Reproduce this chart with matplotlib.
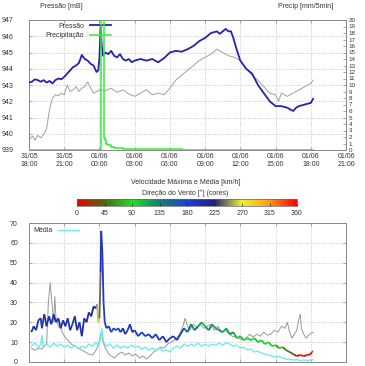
import numpy as np
import matplotlib
matplotlib.use("Agg")
import matplotlib.pyplot as plt
from matplotlib.collections import LineCollection
from matplotlib.colors import LinearSegmentedColormap, Normalize
from matplotlib.cm import ScalarMappable

plt.rcParams['font.family'] = ['Liberation Sans', 'DejaVu Sans']
plt.rcParams['font.size'] = 5

# time axis: hours since 31/05 18:00
tick_hours = [0, 3, 6, 9, 12, 15, 18, 21, 24, 27]
tick_labels = ["31/05\n18:00", "31/05\n21:00", "01/06\n00:00", "01/06\n03:00", "01/06\n06:00",
               "01/06\n09:00", "01/06\n12:00", "01/06\n15:00", "01/06\n18:00", "01/06\n21:00"]

# pressure [mB]
p_hours = [0.0, 0.25, 0.5, 0.75, 1.0, 1.25, 1.5, 1.75, 2.0, 2.25, 2.5, 2.75, 3.0, 3.25, 3.5, 3.75,
           4.0, 4.25, 4.5, 4.75, 5.0, 5.25, 5.5, 5.75, 5.9, 6.0, 6.1, 6.2, 6.3, 6.5, 6.75, 7.0,
           7.25, 7.5, 7.75, 8.0, 8.25, 8.5, 8.75, 9.0, 9.5, 10.0, 10.5, 11.0, 11.5, 12.0, 12.5,
           13.0, 13.5, 14.0, 14.5, 15.0, 15.5, 16.0, 16.25, 16.5, 16.75, 17.0, 17.2, 17.4, 17.7,
           18.0, 18.5, 19.0, 19.5, 20.0, 20.5, 21.0, 21.5, 22.0, 22.5, 22.75, 23.0, 23.5, 24.0, 24.2]
pressure = [943.15, 943.2, 943.35, 943.3, 943.2, 943.3, 943.15, 943.25, 943.1, 943.3, 943.4, 943.35,
            943.5, 943.7, 943.9, 944.1, 944.2, 944.35, 944.85, 944.6, 944.5, 944.3, 944.2, 943.8,
            943.9, 944.7, 946.6, 945.4, 944.8, 945.0, 944.9, 945.1, 944.8, 944.7, 944.9, 944.6,
            944.5, 944.6, 944.4, 944.5, 944.6, 944.5, 944.6, 944.4, 944.65, 945.0, 945.1, 945.05,
            945.2, 945.4, 945.7, 945.9, 946.2, 946.3, 946.15, 946.3, 946.45, 946.3, 946.3, 945.9,
            945.15, 944.5, 944.0, 943.7, 943.0, 942.5, 942.0, 941.7, 941.7, 941.6, 941.4, 941.6,
            941.7, 941.8, 941.9, 942.15]

# grey reference series (top panel, pressure scale)
g_hours = [0.1, 0.3, 0.5, 0.75, 1.0, 1.2, 1.5, 1.75, 2.0, 2.25, 2.5, 2.75, 3.0, 3.25, 3.5, 3.75,
           4.0, 4.25, 4.5, 4.75, 5.0, 5.25, 5.5, 5.75, 6.0, 6.5, 7.0, 7.5, 8.0, 8.5, 9.0, 9.5,
           10.0, 10.5, 11.0, 11.5, 12.0, 12.5, 13.0, 13.5, 14.0, 14.5, 15.0, 15.5, 16.0, 16.5,
           17.0, 17.5, 18.0, 18.5, 19.0, 19.5, 20.0, 20.5, 21.0, 21.25, 21.5, 22.0, 22.5, 23.0,
           23.5, 24.0, 24.2]
g_top = [939.7, 939.85, 939.6, 939.9, 939.75, 939.9, 940.3, 941.5, 942.2, 942.4, 942.35, 942.5,
         942.4, 943.0, 942.6, 942.7, 942.9, 942.6, 942.8, 942.9, 943.2, 942.8, 942.5, 942.6,
         942.7, 942.65, 942.8, 942.55, 942.7, 942.45, 942.3, 942.5, 942.7, 942.4, 942.5, 942.4,
         942.8, 943.3, 943.6, 943.9, 944.2, 944.5, 944.7, 944.9, 945.2, 945.0, 944.8, 944.7,
         944.5, 944.0, 943.6, 943.3, 942.9, 942.5, 942.4, 942.0, 942.5, 942.3, 942.5, 942.7,
         942.9, 943.1, 943.3]

# precipitation [mm/5min]
r_hours = [0.0, 6.08, 6.12, 6.3, 6.36, 6.42, 6.5, 6.6, 6.75, 7.0, 7.25, 7.5, 8.0, 9.0, 10.0,
           10.7, 11.5, 12.3, 12.9, 13.0, 24.2]
precip = [0.0, 0.0, 22.0, 22.0, 3.0, 1.8, 1.5, 1.0, 0.7, 0.5, 0.3, 0.3, 0.15, 0.1, 0.1,
          0.15, 0.1, 0.15, 0.1, 0.0, 0.0]

# wind: max speed [km/h] and direction [deg]
w_hours = [0.2, 0.4, 0.6, 0.8, 1.0, 1.1, 1.3, 1.5, 1.7, 1.9, 2.1, 2.3, 2.5, 2.7, 2.9, 3.1, 3.3,
           3.5, 3.7, 3.9, 4.1, 4.3, 4.5, 4.7, 4.9, 5.1, 5.3, 5.5, 5.7, 5.8, 5.9, 6.0, 6.1, 6.15,
           6.25, 6.35, 6.45, 6.6, 6.8, 7.0, 7.2, 7.4, 7.6, 7.8, 8.0, 8.2, 8.4, 8.6, 8.8, 9.0, 9.3,
           9.6, 9.9, 10.2, 10.5, 10.8, 11.1, 11.4, 11.7, 12.0, 12.3, 12.6, 12.9, 13.2, 13.5, 13.8,
           14.1, 14.4, 14.7, 15.0, 15.3, 15.6, 15.9, 16.2, 16.5, 16.8, 17.1, 17.4, 17.7, 18.0,
           18.3, 18.6, 18.9, 19.2, 19.5, 19.8, 20.1, 20.4, 20.7, 21.0, 21.3, 21.6, 21.9, 22.2,
           22.5, 22.8, 23.1, 23.4, 23.7, 24.0, 24.1, 24.2]
w_max = [15, 18, 16, 21, 22, 17, 24, 18, 23, 19, 24, 20, 22, 17, 21, 18, 22, 16, 19, 23, 16, 20,
         13, 22, 20, 25, 23, 28, 27, 29, 20, 22, 45, 66, 55, 30, 20, 17, 18, 15, 17, 16, 17, 15,
         17, 14, 16, 19, 15, 16, 13, 15, 13, 14, 12, 14, 11, 13, 10, 12, 13, 11, 14, 17, 15, 19,
         16, 18, 20, 18, 16, 19, 17, 16, 15, 17, 14, 15, 12, 13, 11, 12, 11, 12, 10, 11, 9, 10,
         8, 8.5, 7, 7.5, 6, 5, 4, 3, 3.5, 3, 3.5, 4, 5, 5.5]
w_dir = [200, 210, 195, 205, 200, 190, 215, 200, 205, 195, 210, 200, 205, 195, 200, 210, 195,
         205, 200, 210, 195, 200, 205, 200, 210, 200, 215, 210, 205, 260, 265, 240, 200, 195,
         190, 185, 190, 200, 190, 160, 195, 150, 190, 195, 200, 185, 190, 195, 200, 190, 195,
         185, 190, 195, 200, 190, 185, 195, 190, 200, 195, 190, 185, 150, 140, 130, 145, 120,
         110, 125, 140, 115, 120, 130, 110, 120, 135, 115, 100, 105, 95, 100, 90, 105, 95, 100,
         90, 85, 95, 60, 80, 50, 55, 40, 10, 5, 355, 5, 358, 10, 60, 90]

# wind: mean speed [km/h]
m_hours = [0.2, 0.5, 0.8, 1.0, 1.1, 1.2, 1.5, 1.8, 2.1, 2.4, 2.7, 3.0, 3.3, 3.6, 3.9, 4.2, 4.5,
           4.8, 5.1, 5.4, 5.7, 5.9, 6.1, 6.2, 6.35, 6.6, 6.9, 7.2, 7.5, 7.8, 8.1, 8.4, 8.7, 9.0,
           9.3, 9.6, 9.9, 10.2, 10.5, 10.8, 11.1, 11.4, 11.7, 12.0, 12.3, 12.6, 12.9, 13.2, 13.5,
           13.8, 14.1, 14.4, 14.7, 15.0, 15.3, 15.6, 15.9, 16.2, 16.5, 16.8, 17.1, 17.4, 17.7,
           18.0, 18.3, 18.6, 18.9, 19.2, 19.5, 19.8, 20.1, 20.4, 20.7, 21.0, 21.3, 21.6, 21.9,
           22.2, 22.5, 22.8, 23.1, 23.4, 23.7, 24.0, 24.2]
w_mean = [8, 9.5, 7.5, 9, 13.5, 8, 9, 7.5, 9.5, 8, 9, 7.5, 8.5, 7, 8.5, 6.5, 8, 7, 9, 8, 10, 8,
          12, 17, 10, 8, 9, 7, 8.5, 7, 8, 7, 8.5, 7.5, 8, 6.5, 7.5, 6, 7, 6, 7, 5.5, 6, 5, 7, 8,
          7, 9, 8, 9, 8, 9.5, 8, 9, 8, 9, 8.5, 9.5, 8.5, 9.7, 9, 8, 8.5, 7, 7.5, 6, 6.5, 5, 5.5,
          4.5, 4, 3.5, 3, 2.5, 2.8, 2, 1.5, 1.3, 1, 1.2, 0.8, 1, 0.8, 1, 1.2]

# grey reference series (bottom panel)
gb_hours = [0.2, 0.5, 0.8, 1.1, 1.3, 1.5, 1.65, 1.8, 1.95, 2.1, 2.2, 2.3, 2.5, 2.7, 3.0, 3.3,
            3.6, 3.9, 4.2, 4.5, 4.8, 5.1, 5.4, 5.6, 5.8, 6.0, 6.15, 6.3, 6.5, 6.8, 7.0, 7.3, 7.6,
            7.9, 8.2, 8.5, 8.8, 9.1, 9.4, 9.7, 10.0, 10.3, 10.6, 10.9, 11.2, 11.5, 11.8, 12.1,
            12.4, 12.7, 12.9, 13.1, 13.3, 13.5, 13.7, 14.0, 14.3, 14.6, 14.9, 15.2, 15.5, 15.8,
            16.1, 16.4, 16.7, 17.0, 17.3, 17.6, 17.9, 18.2, 18.5, 18.8, 19.1, 19.4, 19.7, 20.0,
            20.3, 20.6, 20.9, 21.2, 21.5, 21.8, 22.0, 22.2, 22.4, 22.6, 22.8, 23.0, 23.1, 23.2,
            23.4, 23.6, 23.9, 24.2]
g_bottom = [7, 6, 7, 6.5, 8, 9, 30, 40, 30, 20, 33, 22, 18, 17, 13, 11, 9, 8, 7, 6, 5, 4, 3.5,
            5, 7, 11, 15, 10, 7, 4, 3, 2, 4, 5, 3.5, 4.5, 3, 4, 2, 3, 1.5, 3, 5, 6, 7.5, 7, 9, 10,
            11, 13, 15, 18, 22, 18, 16, 19, 17, 19, 17, 18, 19, 16, 18, 15, 16, 14.5, 13, 12.5,
            12, 11, 12, 14, 12.5, 14, 13, 15, 13.5, 14, 16, 15, 18, 17, 20, 15, 12, 14, 16, 22,
            24, 17, 14, 12, 14, 15]

# direction colour scale
dir_cmap = LinearSegmentedColormap.from_list("dir", [
    (0.0, "#e80000"), (45 / 360, "#4a6a10"), (90 / 360, "#20e020"), (135 / 360, "#108070"),
    (180 / 360, "#1f3fd8"), (225 / 360, "#20207a"), (270 / 360, "#f0f030"),
    (315 / 360, "#ff9a10"), (1.0, "#ff0000")])
dir_norm = Normalize(0, 360)

fig = plt.figure(figsize=(3.65, 3.66), dpi=100)
txt_col = "#333333"
grid_kw = dict(color="#bbbbbb", linestyle=":", linewidth=0.6)


def style_axes(ax, ypad):
    for s in ax.spines.values():
        s.set_color("#888888")
        s.set_linewidth(0.7)
    ax.tick_params(direction="in", length=2, width=0.5, colors="#888888",
                   labelcolor=txt_col, labelsize=5, pad=2, top=True)
    ax.tick_params(axis="y", pad=ypad)
    ax.set_xlim(0, 27)
    ax.set_xticks(tick_hours)
    ax.grid(True, **grid_kw)


# ---- top panel: pressure and precipitation
ax1 = fig.add_axes([29 / 365, 1 - 150 / 366, 317 / 365, 130 / 366])
style_axes(ax1, 11)
ax1.set_xticklabels(tick_labels, linespacing=1.3)
ax1.set_ylim(939, 947)
ax1.set_yticks(range(939, 948))
ax1.tick_params(axis="y", right=False)

ax2 = ax1.twinx()
ax2.set_ylim(0, 20)
ax2.set_yticks(range(0, 21))
ax2.tick_params(direction="in", length=2, width=0.5, colors="#888888",
                labelcolor=txt_col, labelsize=4.5, pad=2)
for s in ax2.spines.values():
    s.set_visible(False)

ax1.plot(g_hours, g_top, color="#a0a0a0", linewidth=0.7, zorder=2)
lp, = ax1.plot(p_hours, pressure, color="#2323b4", linewidth=1.3, zorder=3, label="Pressão")
lr, = ax2.plot(r_hours, precip, color="#33ee33", linewidth=1.1, label="Precipitação",
               drawstyle="steps-post", clip_on=True)
ax1.legend([lp, lr], ["Pressão", "Precipitação"], loc="upper left", frameon=False,
           markerfirst=False, fontsize=5, handlelength=3, borderaxespad=0.2,
           bbox_to_anchor=(0.04, 1.01), labelspacing=0.3, labelcolor=txt_col)

fig.text(40 / 365, 1 - 7 / 366, "Pressão [mB]", fontsize=5, color=txt_col, va="center")
fig.text(333 / 365, 1 - 7 / 366, "Precip [mm/5min]", fontsize=5, color=txt_col,
         va="center", ha="right")

# ---- colour bar for wind direction
fig.text(186 / 365, 1 - 183 / 366, "Velocidade Máxima e Média [km/h]", fontsize=5,
         color=txt_col, ha="center", va="center")
fig.text(185 / 365, 1 - 193 / 366, "Direção do Vento [°] (cores)", fontsize=5,
         color=txt_col, ha="center", va="center")
cax = fig.add_axes([77 / 365, 1 - 206 / 366, 220 / 365, 7 / 366])
cb = fig.colorbar(ScalarMappable(norm=dir_norm, cmap=dir_cmap), cax=cax,
                  orientation="horizontal", ticks=range(0, 361, 45))
cb.outline.set_edgecolor("#666666")
cb.outline.set_linewidth(0.5)
cax.tick_params(length=2, width=0.5, colors="#222222", labelcolor=txt_col,
                labelsize=5, pad=3, direction="in")

# ---- bottom panel: wind (its time labels fall below the picture edge)
ax3 = fig.add_axes([29 / 365, 1 - 362 / 366, 317 / 365, 139 / 366])
style_axes(ax3, 8)
ax3.set_ylim(0, 70)
ax3.set_yticks(range(0, 71, 10))
ax3.tick_params(axis="y", right=True)
ax3.set_xticklabels([])

ax3.plot(gb_hours, g_bottom, color="#999999", linewidth=0.7, zorder=2)
lm, = ax3.plot(m_hours, w_mean, color="#70ecec", linewidth=1.0, zorder=3)
pts = np.column_stack([w_hours, w_max]).reshape(-1, 1, 2)
segs = np.concatenate([pts[:-1], pts[1:]], axis=1)
lc = LineCollection(segs, cmap=dir_cmap, norm=dir_norm, linewidths=1.3, zorder=4)
lc.set_array(np.asarray(w_dir[:-1], dtype=float))
ax3.add_collection(lc)
ax3.legend([lm], ["Média"], loc="upper left", frameon=False, markerfirst=False,
           fontsize=5, handlelength=3, borderaxespad=0.2, labelcolor=txt_col)

fig.savefig("out.png", dpi=100)
